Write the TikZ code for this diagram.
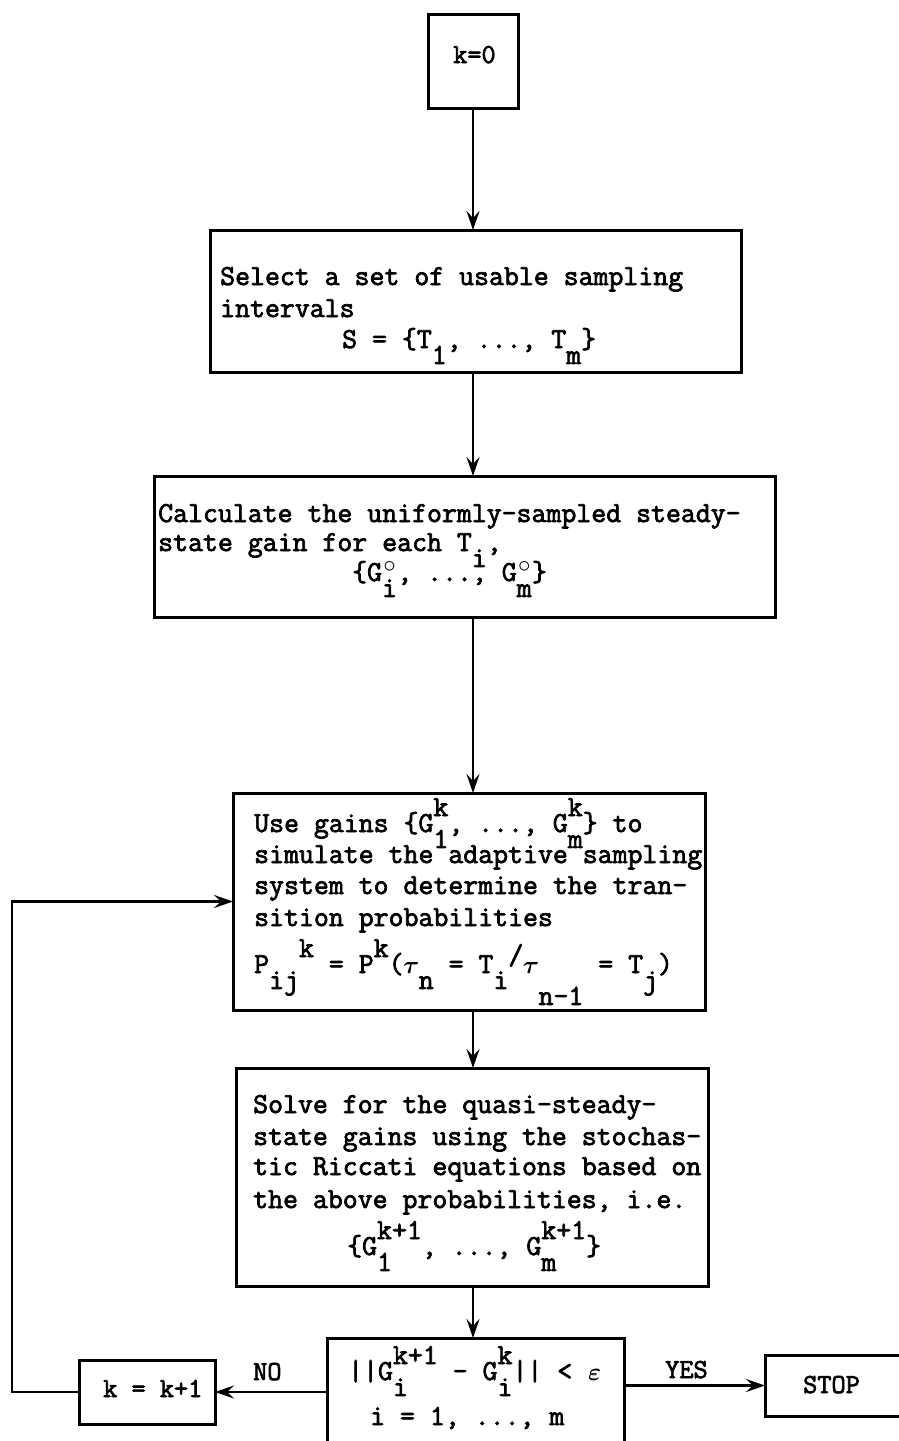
\documentclass[tikz,border=0pt]{standalone}
\usepackage{fontspec}
\newfontfamily\tw[FakeBold=2.5]{Latin Modern Mono}
\usetikzlibrary{arrows.meta}
\usepackage{amsmath}
\newcommand\lo[1]{\raisebox{-0.55em}{#1}}
\newcommand\hi[1]{\raisebox{0.55em}{#1}}
\newcommand\st[2]{\rlap{\raisebox{-0.55em}{#2}}\raisebox{0.55em}{#1}}
\newcommand\dg{\makebox[0.525em]{$\circ$}}
\newcommand\tu{\makebox[0.525em]{$\boldsymbol{\tau}$}}
\newcommand\ep{\makebox[0.525em]{$\boldsymbol{\varepsilon}$}}
\tikzset{
 box/.style={draw, line width=3pt, inner sep=0pt, outer sep=0pt},
 txt/.style={anchor=base west, inner sep=0pt, font={\tw\fontsize{29}{34}\selectfont}},
 lbl/.style={anchor=base west, inner sep=0pt, font={\tw\fontsize{27.5}{32}\selectfont}},
 arr/.style={line width=2.8pt, -{Stealth[length=19pt,width=13pt,inset=7pt]}},
}
\begin{document}
\begin{tikzpicture}[x=1pt,y=-1pt]
\useasboundingbox (0,0) rectangle (898,1441);
% boxes
\node[box, minimum width=90pt, minimum height=94pt] (b0) at (473,61) {};
\node[box, minimum width=531pt, minimum height=142pt] (b1) at (475.5,301) {};
\node[box, minimum width=621pt, minimum height=141pt] (b2) at (464.5,546.5) {};
\node[box, minimum width=472pt, minimum height=217pt] (b3) at (469,901.5) {};
\node[box, minimum width=472pt, minimum height=218pt] (b4) at (472,1177) {};
\node[box, minimum width=297pt, minimum height=112pt] (b5) at (475.5,1394) {};
\node[box, minimum width=136pt, minimum height=64pt] (kb) at (147,1392) {};
\node[box, minimum width=150pt, minimum height=61pt] (stop) at (840,1385.5) {};
% texts
\node[lbl] (t0) at (453,63) {k=0};
\node[txt] (t1a) at (220,285) {Select a set of usable sampling};
\node[txt] (t1b) at (220,317) {intervals};
\node[txt] (t1c) at (342,348) {S = \{T\lo{1}, ..., T\lo{m}\}};
\node[txt] (t2a) at (158,522) {Calculate the uniformly-sampled steady-};
\node[txt] (t2b) at (158,551) {state gain for each T\lo{i},};
\node[txt] (t2c) at (352,581) {\{G\rlap{\raisebox{-0.55em}{i}}\raisebox{0.3em}{\dg}, ..., G\rlap{\raisebox{-0.55em}{m}}\raisebox{0.3em}{\dg}\}};
\node[txt] (t3a) at (254,832) {Use gains \{G\st{k}{1}, ..., G\st{k}{m}\} to};
\node[txt] (t3b) at (254,863) {simulate the adaptive sampling};
\node[txt] (t3c) at (254,894) {system to determine the tran-};
\node[txt] (t3d) at (254,926) {sition probabilities};
\node[txt] (t3e) at (254,973) {P\lo{ij}\hi{k} = P\hi{k}(\tu\lo{n} = T\lo{i}\raisebox{0.3em}{/}\tu\raisebox{-1.1em}{n-1} = T\lo{j})};
\node[txt] (t4a) at (253,1113) {Solve for the quasi-steady-};
\node[txt] (t4b) at (253,1145) {state gains using the stochas-};
\node[txt] (t4c) at (253,1175) {tic Riccati equations based on};
\node[txt] (t4d) at (253,1208) {the above probabilities, i.e.};
\node[txt] (t4e) at (347,1255) {\{G\st{k+1}{1}, ..., G\st{k+1}{m}\}};
\node[txt] (t5a) at (348,1380) {||G\st{k+1}{i} - G\st{k}{i}|| < \ep};
\node[txt] (t5b) at (370,1425) {i = 1, ..., m};
\node[lbl] (tk) at (103,1397) {k = k+1};
\node[lbl] (tno) at (253,1380) {NO};
\node[lbl] (tyes) at (665,1378) {YES};
\node[lbl] (tstop) at (803,1393) {STOP};
% connectors
\draw[arr] (b0.south) -- (b0.south |- b1.north);
\draw[arr] (b0.south |- b1.south) -- (b0.south |- b2.north);
\draw[arr] (b0.south |- b2.south) -- (b0.south |- b3.north);
\draw[arr] (b0.south |- b3.south) -- (b0.south |- b4.north);
\draw[arr] (b0.south |- b4.south) -- (b0.south |- b5.north);
\draw[arr] (b5.west |- kb.east) -- (kb.east);
\draw[arr] (b5.east |- stop.west) -- (stop.west);
\coordinate (lp) at (12,1392);
\draw[arr] (kb.west) -- (lp) |- (b3.west);
\end{tikzpicture}
\end{document}
